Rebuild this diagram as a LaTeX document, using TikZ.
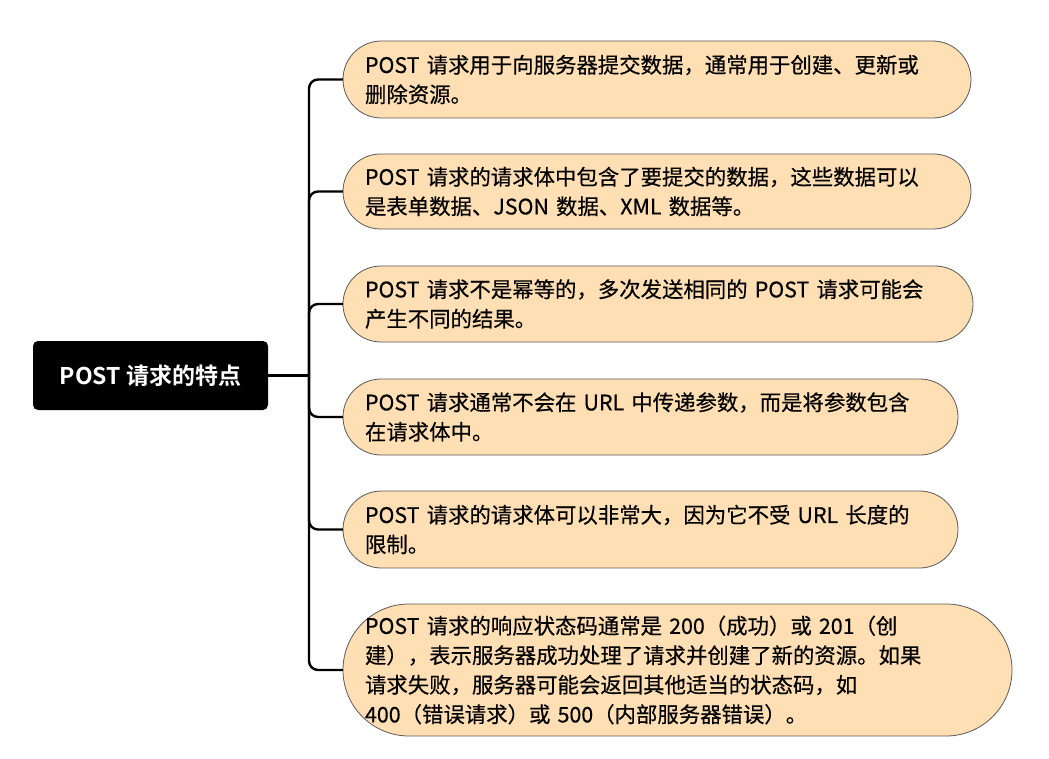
\documentclass[tikz,border=0pt]{standalone}
\usepackage{fontspec}
\setmainfont{Noto Sans CJK SC}[FakeBold=0.4]
\newfontfamily\rootfont{Noto Sans CJK SC Bold}
\begin{document}
\begin{tikzpicture}[x=1pt,y=-1pt,
  root/.style={fill=black, text=white, rounded corners=5pt, minimum width=235pt, minimum height=69pt, inner sep=0pt, outer sep=0pt, font=\rootfont\fontsize{23pt}{30pt}\selectfont},
  item/.style={draw=black!65, line width=0.8pt, fill=peach, anchor=west, align=left, inner xsep=22pt, inner ysep=0pt, outer sep=0pt, font=\fontsize{21.4pt}{29.5pt}\selectfont},
  link/.style={line width=2.4pt, rounded corners=9pt}
]
\definecolor{peach}{RGB}{255,223,179}
\useasboundingbox (0,0) rectangle (1049,759);
\node[root] (root) at (150.5,375.5) {POST 请求的特点};
\node[item, minimum width=628pt, minimum height=77pt, text width=584pt, rounded corners=38.5pt] (b1) at (343,79.5)
 {POST 请求用于向服务器提交数据，通常用于创建、更新或\\删除资源。};
\node[item, minimum width=628pt, minimum height=75pt, text width=584pt, rounded corners=37.5pt] (b2) at (343,191.5)
 {POST 请求的请求体中包含了要提交的数据，这些数据可以\\是表单数据、JSON 数据、XML 数据等。};
\node[item, minimum width=630pt, minimum height=76pt, text width=586pt, rounded corners=38pt] (b3) at (343,304)
 {POST 请求不是幂等的，多次发送相同的 POST 请求可能会\\产生不同的结果。};
\node[item, minimum width=615pt, minimum height=76pt, text width=571pt, rounded corners=38pt] (b4) at (343,417)
 {POST 请求通常不会在 URL 中传递参数，而是将参数包含\\在请求体中。};
\node[item, minimum width=615pt, minimum height=77pt, text width=571pt, rounded corners=38.5pt] (b5) at (343,529.5)
 {POST 请求的请求体可以非常大，因为它不受 URL 长度的\\限制。};
\node[item, minimum width=669pt, minimum height=132pt, text width=625pt, rounded corners=66pt] (b6) at (343,670)
 {POST 请求的响应状态码通常是 200（成功）或 201（创\\建），表示服务器成功处理了请求并创建了新的资源。如果\\请求失败，服务器可能会返回其他适当的状态码，如\\400（错误请求）或 500（内部服务器错误）。};
\coordinate (j) at (309,375.5);
\draw[link] (root.east) -- (j);
\foreach \b in {b1,b2,b3,b4,b5,b6} \draw[link] (j) |- (\b.west);
\end{tikzpicture}
\end{document}
